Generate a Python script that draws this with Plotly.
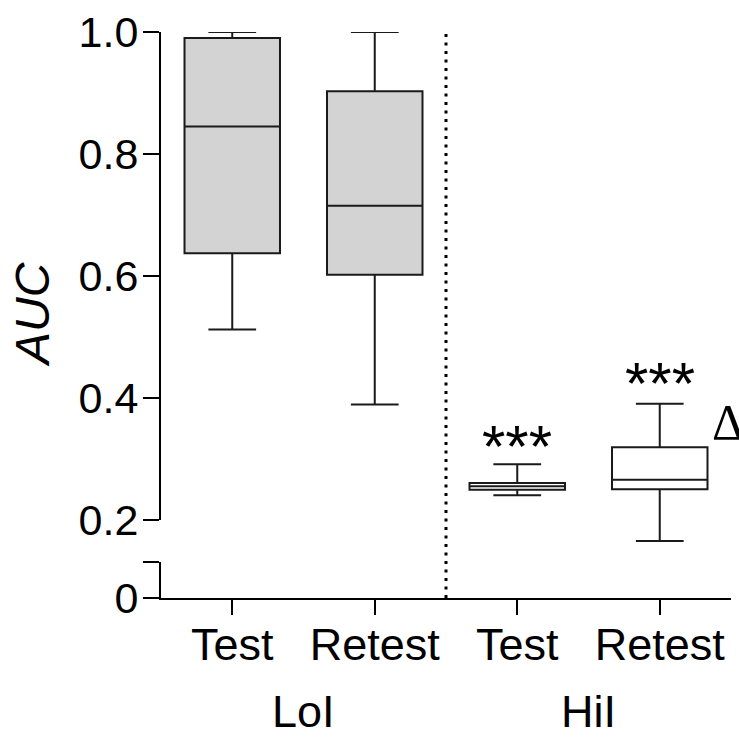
import plotly.graph_objects as go

# ---- data ----
positions = [0, 1, 2, 3]
tick_labels = ["Test", "Retest", "Test", "Retest"]
group_labels = ["LoI", "HiI"]
lower_whisker = [0.512, 0.389, 0.240, 0.165]
q1_vals = [0.637, 0.602, 0.249, 0.250]
medians = [0.845, 0.715, 0.255, 0.2655]
q3_vals = [0.990, 0.903, 0.260, 0.319]
upper_whisker = [1.000, 1.000, 0.291, 0.390]
fill_colors = ["#d3d3d3", "#d3d3d3", "#ffffff", "#ffffff"]
upper_ticks = [0.2, 0.4, 0.6, 0.8, 1.0]
upper_tick_text = ["0.2", "0.4", "0.6", "0.8", "1.0"]
sig_marks = [(2, 0.320, "***"), (3, 0.424, "***")]

FONT = "Liberation Sans, Arial, sans-serif"

fig = go.Figure()
for i, p in enumerate(positions):
    fig.add_trace(go.Box(
        x=[p], q1=[q1_vals[i]], median=[medians[i]], q3=[q3_vals[i]],
        lowerfence=[lower_whisker[i]], upperfence=[upper_whisker[i]],
        fillcolor=fill_colors[i], line=dict(color="#1a1a1a", width=2),
        width=0.67, whiskerwidth=0.5, boxpoints=False,
        xaxis="x", yaxis="y3", showlegend=False, hoverinfo="skip",
    ))

# empty traces so the visible broken-axis segments get drawn
for ya in ["y", "y2"]:
    fig.add_trace(go.Scatter(x=[None], y=[None], xaxis="x", yaxis=ya, mode="markers",
                             showlegend=False, hoverinfo="skip"))

W, H = 739, 739
ml, mr, mt, mb = 161, 8, 27, 141
plot_h = H - mt - mb  # 571
px_per_unit = 615.0
y_upper_bottom_px = 519
y_lower_top_px = 562
bottom_px = H - mb

axis_common = dict(showline=True, linewidth=2, linecolor="black", ticks="outside",
                   ticklen=16, tickwidth=2, tickcolor="black", showgrid=False,
                   zeroline=False, ticklabelstandoff=-4,
                   tickfont=dict(family=FONT, size=43, color="black"))

fig.update_layout(
    width=W, height=H, autosize=False,
    margin=dict(l=ml, r=mr, t=mt, b=mb, pad=0),
    paper_bgcolor="white", plot_bgcolor="white",
    xaxis=dict(range=[-0.5, 3.5], tickmode="array", tickvals=positions, ticktext=tick_labels,
               anchor="y2", domain=[0, 1],
               **{**axis_common, "tickfont": dict(family=FONT, size=45, color="black"),
                  "ticklen": 15, "ticklabelstandoff": -9}),
    yaxis=dict(domain=[(bottom_px - y_upper_bottom_px) / plot_h, 1], range=[0.2, 1.0],
               tickmode="array", tickvals=upper_ticks, ticktext=upper_tick_text,
               anchor="x", **axis_common),
    yaxis2=dict(domain=[0, (bottom_px - y_lower_top_px) / plot_h], range=[0, 0.05],
                tickmode="array", tickvals=[0, 0.05], ticktext=["0", ""],
                anchor="x", **axis_common),
    yaxis3=dict(domain=[0, 1], range=[1 - plot_h / px_per_unit, 1.0], anchor="x",
                visible=False, showgrid=False, zeroline=False),
)

# dotted separator between groups
fig.add_shape(type="line", xref="x", yref="paper", x0=1.5, x1=1.5, y0=0, y1=1,
              line=dict(color="black", width=3, dash="3px,5.5px"))

# significance marks
for x, y, t in sig_marks:
    fig.add_annotation(x=x, y=y, xref="x", yref="y3", text=t, showarrow=False,
                       font=dict(family=FONT, size=60, color="black"), yanchor="middle")
fig.add_annotation(x=3.35, y=0.361, xref="x", yref="y3", text="Δ", showarrow=False,
                   xanchor="left", yanchor="middle",
                   font=dict(family="Liberation Serif, Times New Roman, serif", size=50, color="black"))

# group labels
for gx, g in zip([0.5, 2.5], group_labels):
    fig.add_annotation(x=gx, y=(bottom_px - 713) / plot_h, xref="x", yref="paper", text=g,
                       showarrow=False, yanchor="middle",
                       font=dict(family=FONT, size=45, color="black"))

# y axis title
fig.add_annotation(x=(32 - ml) / (W - ml - mr), y=0.5, xref="paper", yref="paper",
                   text="<i>AUC</i>", textangle=-90, showarrow=False,
                   xanchor="center", yanchor="middle",
                   font=dict(family=FONT, size=48, color="black"))

fig.write_html("out.html")
